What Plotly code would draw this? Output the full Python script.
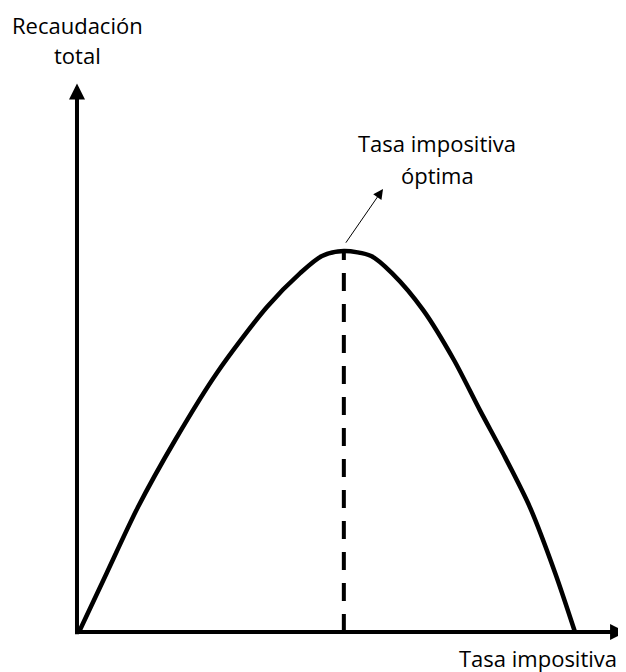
# Curva de Laffer

import plotly.graph_objects as go

tasa = [0, 5.6, 11.9, 19.4, 27.8, 37.9, 44.6, 49.0, 53.4, 58.9, 63.1, 69.4, 75.6, 80.8, 85.9, 90.9, 96.0, 100]
recaudacion = [0, 15.5, 32.8, 50.4, 68.0, 85.3, 94.2, 98.7, 100, 98.7, 94.2, 84.5, 71.4, 58.3, 45.9, 32.8, 15.5, 0]

tasa_optima = 53.4
rec_max = 100

fig = go.Figure()

fig.add_trace(go.Scatter(
    x=tasa, y=recaudacion, mode="lines",
    line=dict(color="black", width=4.5, shape="spline", smoothing=0.8),
    hoverinfo="skip", showlegend=False,
))

# linea discontinua en la tasa optima
fig.add_trace(go.Scatter(
    x=[tasa_optima, tasa_optima], y=[0, rec_max], mode="lines",
    line=dict(color="black", width=4, dash="18px,13px"),
    hoverinfo="skip", showlegend=False,
))

font = dict(family="Open Sans, sans-serif", size=22, color="black")

# ejes con flechas
fig.add_annotation(x=110.3, y=0, ax=-0.4, ay=0, xref="x", yref="y", axref="x", ayref="y",
                   showarrow=True, arrowhead=2, arrowsize=0.8, arrowwidth=4, arrowcolor="black", text="")
fig.add_annotation(x=-0.4, y=144.0, ax=-0.4, ay=-1.0, xref="x", yref="y", axref="x", ayref="y",
                   showarrow=True, arrowhead=2, arrowsize=0.8, arrowwidth=4, arrowcolor="black", text="")

# flecha fina hacia la etiqueta
fig.add_annotation(x=61.3, y=116.3, ax=53.6, ay=101.8, xref="x", yref="y", axref="x", ayref="y",
                   showarrow=True, arrowhead=2, arrowsize=2, arrowwidth=1, arrowcolor="black", text="")

fig.add_annotation(x=72.2, y=128.3, text="Tasa impositiva", showarrow=False, font=font)
fig.add_annotation(x=72.2, y=120.0, text="óptima", showarrow=False, font=font)
fig.add_annotation(x=-0.2, y=159.3, text="Recaudación", showarrow=False, font=font)
fig.add_annotation(x=-0.2, y=151.4, text="total", showarrow=False, font=font)
fig.add_annotation(x=92.5, y=-6.8, text="Tasa impositiva", showarrow=False, font=font)

fig.update_layout(
    width=626, height=672,
    margin=dict(l=0, r=0, t=0, b=0),
    plot_bgcolor="white", paper_bgcolor="white",
    xaxis=dict(range=[-14.31, 111.9], visible=False, fixedrange=True),
    yaxis=dict(range=[-12.6, 163.8], visible=False, fixedrange=True),
)

fig.write_html("out.html")
